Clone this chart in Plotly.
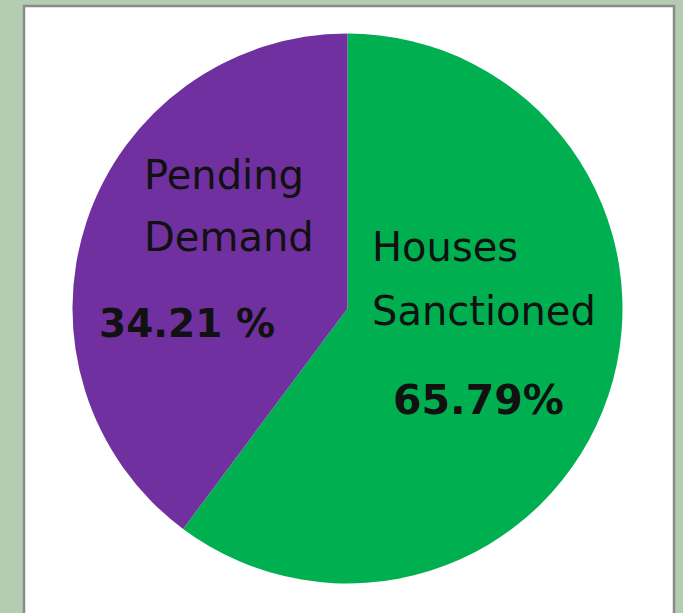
import plotly.graph_objects as go

W, H = 683, 613

categories = ["Houses Sanctioned", "Pending Demand"]
slice_values = [60.2, 39.8]          # share of the circle as drawn
name_lines = [["Houses", "Sanctioned"], ["Pending", "Demand"]]
label_percents = ["65.79%", "34.21 %"]
colors = ["#00B050", "#7030A0"]

cx, cy, r = 347.5, 308.5, 275

def px(x):
    return x / W

def py(y):
    return 1 - y / H

fig = go.Figure()
fig.add_trace(go.Pie(
    labels=categories,
    values=slice_values,
    sort=False,
    direction="clockwise",
    rotation=0,
    marker=dict(colors=colors, line=dict(width=0)),
    textinfo="none",
    hoverinfo="label+percent",
    showlegend=False,
    domain=dict(x=[px(cx - r), px(cx + r)], y=[py(cy + r), py(cy - r)]),
))

font_name = "DejaVu Sans"
name_font = dict(family=font_name, size=40, color="#111111")
pct_font = dict(family=font_name, size=41, color="#111111")

ann = []
# Houses Sanctioned (left-aligned block)
for txt, yy in zip(name_lines[0], [247, 311]):
    ann.append(dict(x=px(370), y=py(yy), text=txt, showarrow=False, font=name_font,
                    xanchor="left", yanchor="middle"))
ann.append(dict(x=px(478), y=py(400), text="<b>" + label_percents[0] + "</b>", showarrow=False,
                font=pct_font, xanchor="center", yanchor="middle"))
# Pending Demand
for txt, yy in zip(name_lines[1], [175, 237]):
    ann.append(dict(x=px(142), y=py(yy), text=txt, showarrow=False, font=name_font,
                    xanchor="left", yanchor="middle"))
ann.append(dict(x=px(187), y=py(323), text="<b>" + label_percents[1] + "</b>", showarrow=False,
                font=dict(family=font_name, size=39, color="#111111"),
                xanchor="center", yanchor="middle"))

fig.update_layout(
    width=W, height=H,
    margin=dict(l=0, r=0, t=0, b=0),
    paper_bgcolor="#b4cdb2",
    plot_bgcolor="#b4cdb2",
    annotations=ann,
    shapes=[dict(type="rect", xref="paper", yref="paper", layer="below",
                 x0=px(24), x1=px(674), y0=py(640), y1=py(6),
                 fillcolor="white", line=dict(color="#8a8a8a", width=2.5))],
)

fig.write_html("out.html", config={"displayModeBar": False},
               post_script="document.body.style.margin='0';document.body.style.background='#b4cdb2';")
